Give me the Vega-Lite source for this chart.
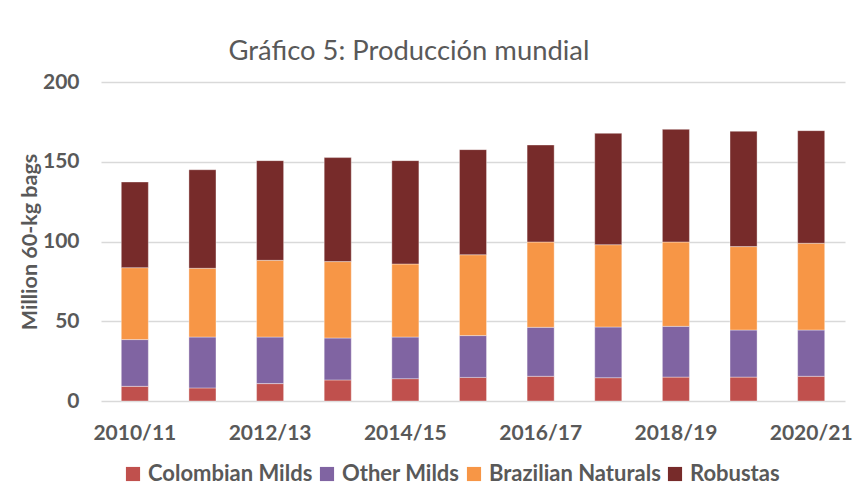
{
  "$schema": "https://vega.github.io/schema/vega-lite/v6.json",
  "width": 744,
  "height": 319,
  "autosize": {"type": "none"},
  "padding": {"left": 101, "top": 82, "right": 9, "bottom": 90},
  "background": "#ffffff",
  "title": {
    "text": "Gráfico 5: Producción mundial",
    "anchor": "middle",
    "frame": "group",
    "dx": -64,
    "offset": -16,
    "baseline": "alphabetic",
    "font": "Lato",
    "fontSize": 27.4,
    "fontWeight": "normal",
    "color": "#595959"
  },
  "data": {
    "values": [
      {"season": "2010/11", "type": "Colombian Milds", "value": 9.2},
      {"season": "2010/11", "type": "Other Milds", "value": 29.3},
      {"season": "2010/11", "type": "Brazilian Naturals", "value": 45.1},
      {"season": "2010/11", "type": "Robustas", "value": 53.7},
      {"season": "2011/12", "type": "Colombian Milds", "value": 8.2},
      {"season": "2011/12", "type": "Other Milds", "value": 31.9},
      {"season": "2011/12", "type": "Brazilian Naturals", "value": 43.1},
      {"season": "2011/12", "type": "Robustas", "value": 61.8},
      {"season": "2012/13", "type": "Colombian Milds", "value": 10.9},
      {"season": "2012/13", "type": "Other Milds", "value": 29.2},
      {"season": "2012/13", "type": "Brazilian Naturals", "value": 48.1},
      {"season": "2012/13", "type": "Robustas", "value": 62.5},
      {"season": "2013/14", "type": "Colombian Milds", "value": 13.2},
      {"season": "2013/14", "type": "Other Milds", "value": 26.3},
      {"season": "2013/14", "type": "Brazilian Naturals", "value": 47.9},
      {"season": "2013/14", "type": "Robustas", "value": 65.2},
      {"season": "2014/15", "type": "Colombian Milds", "value": 14.0},
      {"season": "2014/15", "type": "Other Milds", "value": 26.1},
      {"season": "2014/15", "type": "Brazilian Naturals", "value": 45.8},
      {"season": "2014/15", "type": "Robustas", "value": 64.8},
      {"season": "2015/16", "type": "Colombian Milds", "value": 14.8},
      {"season": "2015/16", "type": "Other Milds", "value": 26.2},
      {"season": "2015/16", "type": "Brazilian Naturals", "value": 50.7},
      {"season": "2015/16", "type": "Robustas", "value": 65.9},
      {"season": "2016/17", "type": "Colombian Milds", "value": 15.5},
      {"season": "2016/17", "type": "Other Milds", "value": 30.7},
      {"season": "2016/17", "type": "Brazilian Naturals", "value": 53.5},
      {"season": "2016/17", "type": "Robustas", "value": 60.8},
      {"season": "2017/18", "type": "Colombian Milds", "value": 14.6},
      {"season": "2017/18", "type": "Other Milds", "value": 31.8},
      {"season": "2017/18", "type": "Brazilian Naturals", "value": 51.6},
      {"season": "2017/18", "type": "Robustas", "value": 69.8},
      {"season": "2018/19", "type": "Colombian Milds", "value": 15.0},
      {"season": "2018/19", "type": "Other Milds", "value": 31.8},
      {"season": "2018/19", "type": "Brazilian Naturals", "value": 52.9},
      {"season": "2018/19", "type": "Robustas", "value": 70.6},
      {"season": "2019/20", "type": "Colombian Milds", "value": 15.0},
      {"season": "2019/20", "type": "Other Milds", "value": 29.5},
      {"season": "2019/20", "type": "Brazilian Naturals", "value": 52.3},
      {"season": "2019/20", "type": "Robustas", "value": 72.3},
      {"season": "2020/21", "type": "Colombian Milds", "value": 15.5},
      {"season": "2020/21", "type": "Other Milds", "value": 29.0},
      {"season": "2020/21", "type": "Brazilian Naturals", "value": 54.4},
      {"season": "2020/21", "type": "Robustas", "value": 70.6}
    ]
  },
  "transform": [
    {"calculate": "indexof(['Colombian Milds','Other Milds','Brazilian Naturals','Robustas'], datum.type)", "as": "stackOrder"}
  ],
  "mark": {"type": "bar", "stroke": "#ffffff", "strokeOpacity": 0.45, "strokeWidth": 0.8},
  "encoding": {
    "x": {
      "field": "season",
      "type": "nominal",
      "sort": null,
      "scale": {"paddingInner": 0.6, "paddingOuter": 0.3},
      "axis": {
        "title": null,
        "values": ["2010/11", "2012/13", "2014/15", "2016/17", "2018/19", "2020/21"],
        "labelAngle": 0,
        "labelFont": "Lato",
        "labelFontSize": 21,
        "labelFontWeight": "bold",
        "labelColor": "#595959",
        "labelPadding": 21,
        "ticks": false,
        "domain": false
      }
    },
    "y": {
      "field": "value",
      "type": "quantitative",
      "stack": "zero",
      "scale": {"domain": [0, 200], "nice": false},
      "axis": {
        "title": "Million 60-kg bags",
        "titleFont": "Lato",
        "titleFontSize": 21.5,
        "titleFontWeight": "bold",
        "titleColor": "#595959",
        "titlePadding": 1,
        "values": [0, 50, 100, 150, 200],
        "labelFont": "Lato",
        "labelFontSize": 21,
        "labelFontWeight": "bold",
        "labelColor": "#595959",
        "labelPadding": 22,
        "ticks": false,
        "domain": false,
        "grid": true,
        "gridColor": "#d9d9d9",
        "gridWidth": 1.3
      }
    },
    "order": {"field": "stackOrder", "type": "quantitative", "sort": "ascending"},
    "color": {
      "field": "type",
      "type": "nominal",
      "sort": ["Colombian Milds", "Other Milds", "Brazilian Naturals", "Robustas"],
      "scale": {
        "domain": ["Colombian Milds", "Other Milds", "Brazilian Naturals", "Robustas"],
        "range": ["#C0504D", "#8064A2", "#F79646", "#772B2A"]
      },
      "legend": {
        "title": null,
        "orient": "none",
        "direction": "horizontal",
        "legendX": 21,
        "legendY": 381,
        "symbolType": "square",
        "symbolSize": 200,
        "symbolStrokeWidth": 0,
        "labelFont": "Lato",
        "labelFontSize": 22,
        "labelFontWeight": "bold",
        "labelColor": "#595959",
        "labelOffset": 4,
        "labelLimit": 400,
        "columnPadding": 3
      }
    }
  },
  "config": {
    "view": {"stroke": null}
  }
}
